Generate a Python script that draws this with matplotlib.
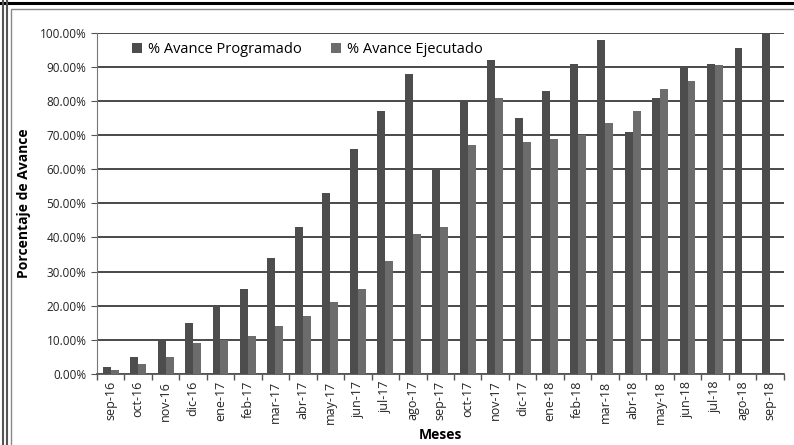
import numpy as np
import matplotlib
matplotlib.use('Agg')
import matplotlib.pyplot as plt
from matplotlib.lines import Line2D
from matplotlib.patches import Rectangle
from matplotlib.ticker import FuncFormatter, MultipleLocator

# Datos
meses = ['sep-16', 'oct-16', 'nov-16', 'dic-16', 'ene-17', 'feb-17', 'mar-17',
         'abr-17', 'may-17', 'jun-17', 'jul-17', 'ago-17', 'sep-17', 'oct-17',
         'nov-17', 'dic-17', 'ene-18', 'feb-18', 'mar-18', 'abr-18', 'may-18',
         'jun-18', 'jul-18', 'ago-18', 'sep-18']
programado = [2, 5, 10, 15, 20, 25, 34, 43, 53, 66, 77, 88, 60, 80,
              92, 75, 83, 91, 98, 71, 81, 90, 91, 95.5, 100]
ejecutado = [1, 3, 5, 9, 10, 11, 14, 17, 21, 25, 33, 41, 43, 67,
             81, 68, 69, 70, 73.5, 77, 83.5, 86, 90.5, np.nan, np.nan]

plt.rcParams['font.family'] = ['Open Sans', 'DejaVu Sans']

fig = plt.figure(figsize=(7.94, 4.45), dpi=100)
ax = fig.add_axes([0.122, 0.160, 0.865, 0.766])

x = np.arange(len(meses))
w = 0.29
ax.bar(x - w / 2, programado, w, color='#4d4d4d', label='% Avance Programado', zorder=3)
ax.bar(x + w / 2, ejecutado, w, color='#6c6c6c', label='% Avance Ejecutado', zorder=3)

ax.set_xlim(-0.5, len(meses) - 0.5)
ax.set_ylim(0, 100)
ax.yaxis.set_major_locator(MultipleLocator(10))
ax.yaxis.set_major_formatter(FuncFormatter(lambda v, p: f'{v:.2f}%'))
ax.grid(axis='y', color='#3a3a3a', linewidth=1.3, zorder=0)

ax.set_xticks(x)
ax.set_xticklabels(meses, rotation=90, fontsize=9, color='#222222')
ax.set_xticks(np.arange(len(meses) + 1) - 0.5, minor=True)
ax.tick_params(axis='x', which='major', length=0, pad=5)
ax.tick_params(axis='x', which='minor', length=4, color='#555555', width=1)
ax.tick_params(axis='y', labelsize=8.5, length=4, color='#555555', labelcolor='#222222')

for s in ['top', 'right']:
    ax.spines[s].set_visible(False)
ax.spines['left'].set_color('#777777')
ax.spines['bottom'].set_color('#555555')
ax.spines['bottom'].set_linewidth(1.3)

ax.set_ylabel('Porcentaje de Avance', fontsize=10, fontweight='bold', labelpad=6)
ax.set_xlabel('Meses', fontsize=10, fontweight='bold')
ax.xaxis.set_label_coords(0.5, -0.16)

ax.legend(loc='center', bbox_to_anchor=(0.306, 0.95), ncol=2, frameon=False,
          fontsize=10.5, handlelength=0.7, handleheight=0.7, columnspacing=2.0,
          handletextpad=0.4)

# Bordes de la hoja escaneada
fig.add_artist(Line2D([0.0, 1.0], [0.994, 0.994], color='black', lw=2.2))
fig.add_artist(Line2D([0.004, 0.004], [0, 1], color='#555555', lw=1.5))
fig.add_artist(Line2D([0.009, 0.009], [0, 1], color='#555555', lw=1.5))
fig.add_artist(Rectangle((0.014, -0.01), 0.99, 0.99, fill=False,
                         edgecolor='#888888', lw=1.0))

fig.savefig('out.png', dpi=100)
